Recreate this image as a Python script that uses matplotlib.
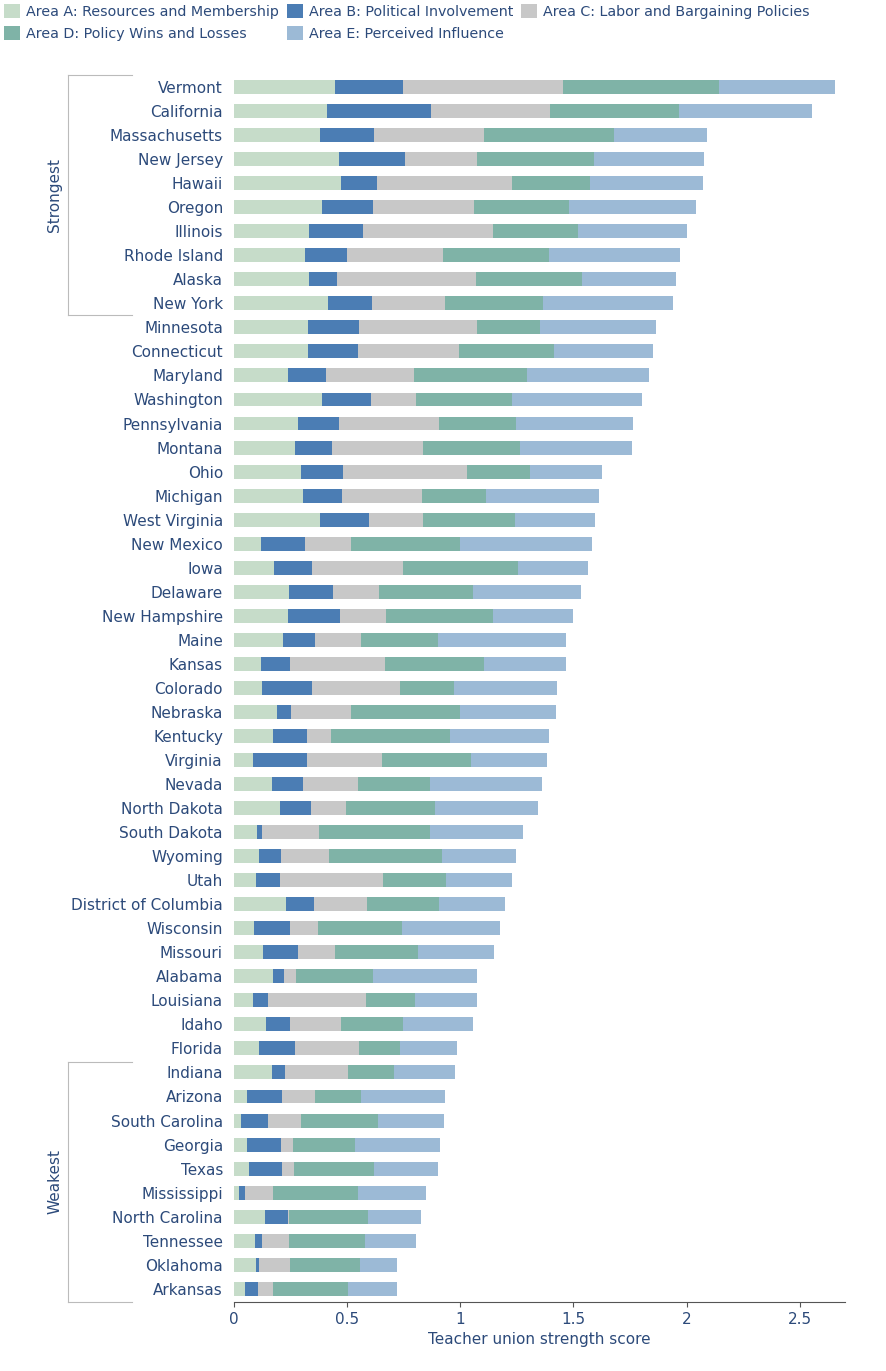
import matplotlib
matplotlib.use("Agg")
import matplotlib.pyplot as plt
import numpy as np

states = ["Vermont","California","Massachusetts","New Jersey","Hawaii","Oregon","Illinois","Rhode Island","Alaska","New York",
"Minnesota","Connecticut","Maryland","Washington","Pennsylvania","Montana","Ohio","Michigan","West Virginia","New Mexico",
"Iowa","Delaware","New Hampshire","Maine","Kansas","Colorado","Nebraska","Kentucky","Virginia","Nevada",
"North Dakota","South Dakota","Wyoming","Utah","District of Columbia","Wisconsin","Missouri","Alabama","Louisiana","Idaho",
"Florida","Indiana","Arizona","South Carolina","Georgia","Texas","Mississippi","North Carolina","Tennessee","Oklahoma","Arkansas"]

# cumulative score at end of each area
a_end = [.447,.412,.381,.465,.473,.389,.332,.314,.332,.416,.327,.327,.239,.389,.283,.270,.296,.305,.381,.119,
.177,.243,.239,.217,.119,.124,.190,.173,.084,.168,.204,.102,.111,.097,.230,.088,.128,.173,.084,.142,
.111,.168,.058,.031,.058,.066,.022,.137,.093,.097,.049]
b_end = [.748,.872,.619,.757,.633,.615,.571,.5,.456,.611,.553,.549,.407,.606,.465,.434,.482,.478,.597,.314,
.345,.438,.469,.358,.248,.345,.252,.323,.323,.305,.341,.124,.208,.204,.354,.248,.283,.221,.150,.248,
.270,.226,.212,.150,.208,.212,.049,.239,.124,.111,.106]
c_end = [1.456,1.398,1.106,1.075,1.230,1.062,1.146,.925,1.071,.934,1.075,.996,.796,.805,.907,.836,1.031,.832,.836,.518,
.748,.642,.673,.562,.668,.735,.518,.429,.655,.549,.496,.376,.420,.659,.588,.372,.447,.274,.584,.473,
.553,.504,.358,.296,.261,.265,.173,.243,.243,.248,.173]
d_end = [2.142,1.965,1.681,1.593,1.575,1.482,1.522,1.394,1.540,1.367,1.354,1.416,1.296,1.230,1.248,1.265,1.310,1.115,1.243,1.0,
1.257,1.058,1.146,.903,1.106,.973,1.0,.956,1.049,.867,.889,.867,.920,.938,.907,.743,.814,.615,.801,.748,
.735,.708,.562,.637,.535,.619,.549,.593,.580,.558,.504]
e_end = [2.655,2.553,2.088,2.075,2.071,2.040,2.004,1.969,1.951,1.938,1.863,1.850,1.832,1.805,1.765,1.757,1.628,1.611,1.597,1.584,
1.566,1.535,1.496,1.465,1.465,1.429,1.425,1.394,1.385,1.363,1.345,1.279,1.248,1.230,1.199,1.177,1.150,1.075,1.075,1.058,
.987,.978,.934,.929,.912,.903,.850,.827,.805,.721,.721]

areas = ["Area A: Resources and Membership","Area B: Political Involvement","Area C: Labor and Bargaining Policies",
         "Area D: Policy Wins and Losses","Area E: Perceived Influence"]
colors = ["#c6dcc9","#4b7db4","#c8c8c8","#7fb3a7","#9cbad6"]

ends = np.array([a_end,b_end,c_end,d_end,e_end])
starts = np.vstack([np.zeros(len(states)), ends[:-1]])
label_color = "#2c4a7a"

fig = plt.figure(figsize=(8.87,13.71), dpi=100)
ax = fig.add_axes([234/887, 1-1302/1371, 611/887, (1302-75)/1371])
y = np.arange(len(states))
for i in range(5):
    ax.barh(y, ends[i]-starts[i], left=starts[i], height=0.58, color=colors[i], label=areas[i])
ax.set_ylim(len(states)-0.45, -0.5)
ax.set_xlim(0, 2.7)
ax.set_yticks(y)
ax.set_yticklabels(states, fontsize=11, color=label_color)
ax.tick_params(axis='y', length=0, pad=8)
ax.set_xticks([0,0.5,1,1.5,2,2.5])
ax.set_xticklabels(["0","0.5","1","1.5","2","2.5"], fontsize=11, color=label_color)
ax.tick_params(axis='x', colors="#555555", labelcolor=label_color)
for s in ["top","right","left"]:
    ax.spines[s].set_visible(False)
ax.spines["bottom"].set_color("#555555")
ax.set_xlabel("Teacher union strength score", fontsize=11, color=label_color)

def bracket(y0, y1, text):
    Y0 = 1-y0/1371; Y1 = 1-y1/1371
    x0, x1 = 68/887, 132/887
    fig.add_artist(plt.Line2D([x0,x0],[Y0,Y1], color="#bbbbbb", lw=0.8))
    fig.add_artist(plt.Line2D([x0,x1],[Y0,Y0], color="#bbbbbb", lw=0.8))
    fig.add_artist(plt.Line2D([x0,x1],[Y1,Y1], color="#bbbbbb", lw=0.8))
    fig.text(55/887, (Y0+Y1)/2, text, rotation=90, ha="center", va="center", fontsize=11, color=label_color)
bracket(75, 315, "Strongest")
bracket(1062, 1302, "Weakest")

h, l = ax.get_legend_handles_labels()
order = [0,3,1,4,2]
fig.legend([h[i] for i in order],[l[i] for i in order], loc="upper left", bbox_to_anchor=(-0.005,1.003), ncol=3,
           frameon=False, fontsize=10.3, handlelength=1.1, handleheight=1.1, columnspacing=0.6, handletextpad=0.4,
           labelcolor=label_color, borderaxespad=0.2)
fig.savefig("out.png", dpi=100)
